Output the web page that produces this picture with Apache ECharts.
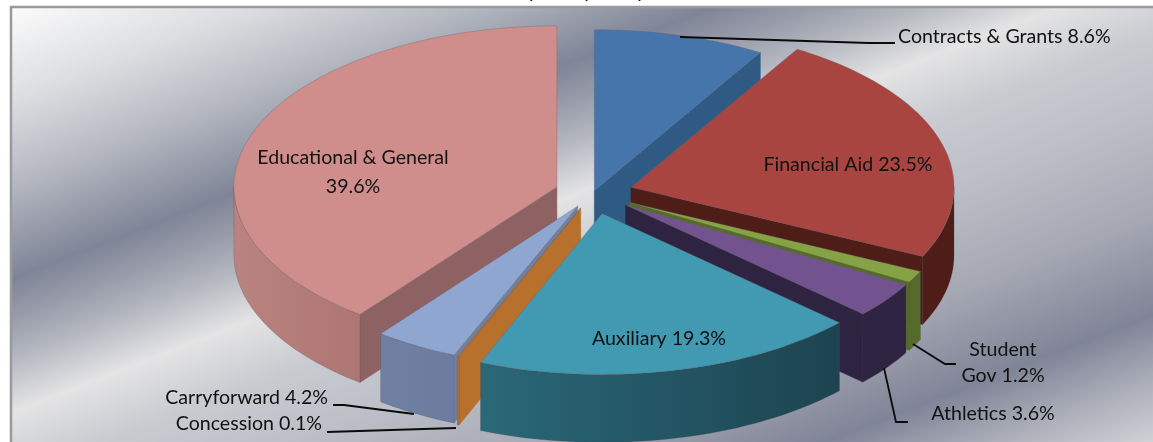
<!DOCTYPE html>
<html>
<head>
<meta charset="utf-8">
<style>html,body{margin:0;padding:0;background:#fff}#c{width:1153px;height:442px}</style>
<script src="https://cdn.jsdelivr.net/npm/echarts@6/dist/echarts.min.js"></script>
</head>
<body>
<div id="c"></div>
<script>
// ---- data, clockwise from 12 o'clock ----
var categories = ['Contracts & Grants','Financial Aid','Student Gov','Athletics','Auxiliary','Concession','Carryforward','Educational & General'];
var shares = [8.6,23.5,1.2,3.6,19.3,0.1,4.2,39.6];

// ---- look of each slice (same order) ----
var explode = [0.015,0.123,0.125,0.125,0.13,0.10,0.095,0.118];
var topColors  = ['#4675ab','#a94540','#85a344','#735290','#4199b2','#b8702d','#8fa7d0','#cf8e8c'];
var cutColors  = ['#2f5a83','#4f1d18','#566b2b','#2e2340','#1f4452','#b8702d','#6f80a2','#8e6262'];
var rimFrom    = ['#2f5a83','#4f1d18','#566b2b','#2e2340','#2a6878','#b8702d','#6f80a2','#b98380'];
var rimTo      = ['#2f5a83','#4f1d18','#566b2b','#2e2340','#1d4350','#b8702d','#6c7c9e','#ad7672'];
var paintOrder = [7,0,1,2,3,6,5,4];

// ---- pie projection ----
var CX = 593, CY = 193, RX = 323, RY = 161, DEPTH = 68;

var total = shares.reduce(function(a,b){return a+b;},0);
var angles = [], acc = 0;
shares.forEach(function(v){ var s = acc; acc += v/total*360; angles.push([s,acc]); });
function rad(d){return d*Math.PI/180;}

function rimPts(ox,oy,a0,a1,dz){
  var n = Math.max(2,Math.ceil((a1-a0)/1.5)), pts=[];
  for(var i=0;i<=n;i++){
    var t = rad(a0+(a1-a0)*i/n);
    pts.push([ox+RX*Math.sin(t), oy-RY*Math.cos(t)+dz]);
  }
  return pts;
}

function renderSlice(params, api){
  var i = api.value(0);
  var a0 = angles[i][0], a1 = angles[i][1], mid = rad((a0+a1)/2), e = explode[i];
  var ox = CX+e*RX*Math.sin(mid), oy = CY-e*RY*Math.cos(mid);
  var children = [];
  function cut(a){
    var t=rad(a), px=ox+RX*Math.sin(t), py=oy-RY*Math.cos(t);
    children.push({type:'polygon',shape:{points:[[ox,oy],[px,py],[px,py+DEPTH],[ox,oy+DEPTH]]},
      style:{fill:cutColors[i],stroke:cutColors[i],lineWidth:0.5}});
  }
  if(Math.sin(rad(a0))<0) cut(a0);
  if(Math.sin(rad(a1))>0) cut(a1);
  var w0=Math.max(a0,90), w1=Math.min(a1,270);
  if(w1>w0){
    var up=rimPts(ox,oy,w0,w1,0), down=rimPts(ox,oy,w0,w1,DEPTH).reverse();
    var xs=up.map(function(p){return p[0];});
    children.push({type:'polygon',shape:{points:up.concat(down)},
      style:{stroke:'rgba(70,70,80,0.35)',lineWidth:0.7,
        fill:{type:'linear',global:true,x:Math.max.apply(null,xs),y:0,x2:Math.min.apply(null,xs),y2:0,
          colorStops:[{offset:0,color:rimTo[i]},{offset:1,color:rimFrom[i]}]}}});
  }
  children.push({type:'polygon',shape:{points:[[ox,oy]].concat(rimPts(ox,oy,a0,a1,0))},
    style:{fill:topColors[i],stroke:'rgba(95,95,105,0.45)',lineWidth:0.7}});
  return {type:'group',children:children};
}

// ---- annotations ----
var FONT = '19.6px Lato, "Open Sans", sans-serif', INK = '#111111';
var labelTexts = [
  {t:'Contracts & Grants 8.6%', x:898, y:37, a:'left'},
  {t:'Financial Aid 23.5%', x:848, y:165, a:'center'},
  {t:'Educational & General', x:353, y:158, a:'center'},
  {t:'39.6%', x:353, y:187, a:'center'},
  {t:'Auxiliary 19.3%', x:659, y:339, a:'center'},
  {t:'Student', x:1003, y:350, a:'center'},
  {t:'Gov 1.2%', x:1003, y:376, a:'center'},
  {t:'Athletics 3.6%', x:993, y:414, a:'center'},
  {t:'Carryforward 4.2%', x:328, y:398, a:'right'},
  {t:'Concession 0.1%', x:322, y:424, a:'right'}
];
var leaders = [
  [[680,37],[869,43],[895,43]],
  [[333,405],[344,405],[414,414]],
  [[327,432],[456,428]],
  [[913,344],[945,364],[956,364]],
  [[884,368],[896,422],[908,422]]
];
var titleBits = [{t:'p',x:529},{t:'y',x:583},{t:'y',x:636}];

function renderDecor(){
  var ch=[];
  leaders.forEach(function(l){
    ch.push({type:'polyline',shape:{points:l},style:{stroke:'#0a0a0a',lineWidth:1.8,fill:null}});
  });
  labelTexts.forEach(function(o){
    ch.push({type:'text',style:{text:o.t,x:o.x,y:o.y,align:o.a,verticalAlign:'middle',font:FONT,fill:INK}});
  });
  return {type:'group',children:ch};
}

// brushed-metal panel
var panelStops = [[0,'#ffffff'],[100,'#dcdde0'],[180,'#b4b7c0'],[265,'#7f8597'],[300,'#979ba9'],[340,'#b5b8c0'],
  [390,'#e4e4e5'],[450,'#c9cbd0'],[520,'#bcbfc7'],[620,'#a5a8b3'],[712,'#7f8497'],[770,'#aaadb8'],[830,'#d0d1d6']];

var chart = echarts.init(document.getElementById('c'),null,{renderer:'canvas'});
chart.setOption({
  animation:false,
  graphic:[
    {type:'text',silent:true,z:0,style:{text:titleBits[0].t,x:titleBits[0].x,y:2,verticalAlign:'bottom',font:FONT,fill:INK}},
    {type:'text',silent:true,z:0,style:{text:titleBits[1].t,x:titleBits[1].x,y:2,verticalAlign:'bottom',font:FONT,fill:INK}},
    {type:'text',silent:true,z:0,style:{text:titleBits[2].t,x:titleBits[2].x,y:2,verticalAlign:'bottom',font:FONT,fill:INK}},
    {type:'rect',silent:true,z:-1,shape:{x:11,y:7,width:1145,height:440},
      style:{stroke:'#9a9a9a',lineWidth:2.5,
        fill:{type:'linear',global:true,x:0,y:0,x2:299,y2:772,
          colorStops:panelStops.map(function(s){return {offset:s[0]/830,color:s[1]};})}}}
  ],
  series:[
    {type:'custom',coordinateSystem:'none',z:2,silent:true,clip:false,
     data:paintOrder.map(function(i){return {name:categories[i],value:[i,shares[i]]};}),
     renderItem:renderSlice},
    {type:'custom',coordinateSystem:'none',z:3,silent:true,clip:false,data:[[0]],renderItem:renderDecor}
  ]
});
</script>
</body>
</html>
